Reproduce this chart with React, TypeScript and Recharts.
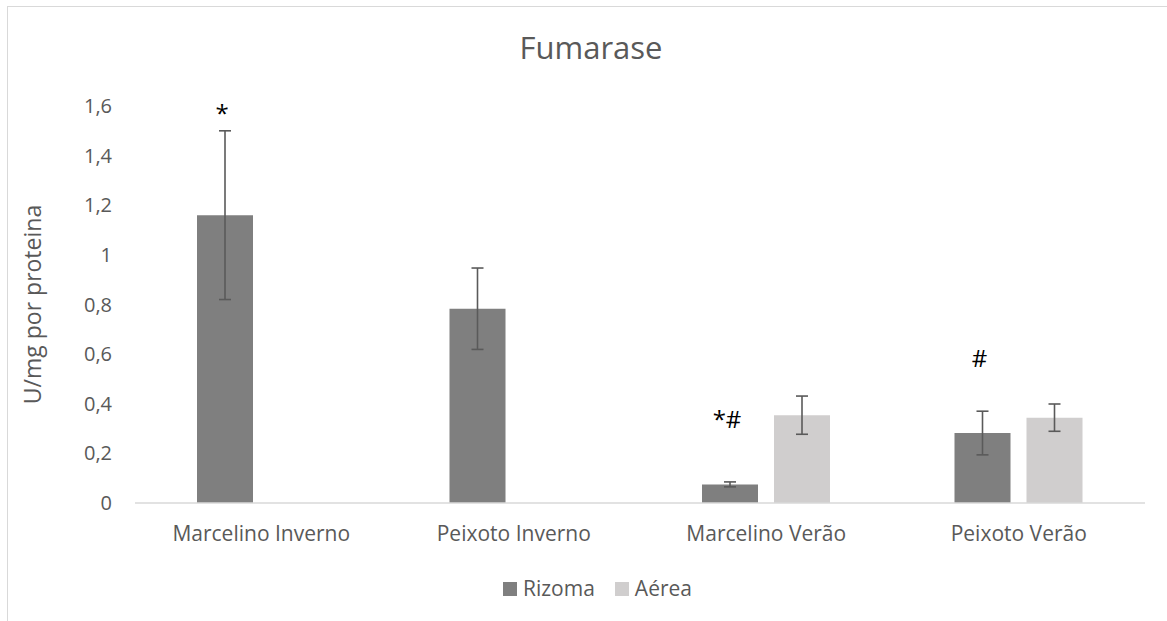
import {
  BarChart,
  Bar,
  XAxis,
  YAxis,
  ErrorBar,
  Legend,
  Label,
} from "recharts";

const categories = [
  "Marcelino Inverno",
  "Peixoto Inverno",
  "Marcelino Verão",
  "Peixoto Verão",
];
const seriesNames = ["Rizoma", "Aérea"];
const rizoma = [1.16, 0.783, 0.075, 0.282];
const rizomaErr = [0.34, 0.164, 0.01, 0.088];
const aerea = [null, null, 0.354, 0.344];
const aereaErr = [null, null, 0.077, 0.055];
// significance marks above the Rizoma bars, with the level they sit at
const marks = ["*", "", "*#", "#"];
const markLevels = [1.536, null, 0.304, 0.55];
const yTicks = [0, 0.2, 0.4, 0.6, 0.8, 1, 1.2, 1.4, 1.6];

const data = categories.map((name, i) => ({
  name,
  rizoma: rizoma[i],
  rizomaErr: rizomaErr[i],
  aerea: aerea[i],
  aereaErr: aereaErr[i],
}));

const FONT = "'Open Sans', sans-serif";
const TEXT = "#595959";

const renderMark = (props: any) => {
  const i = props.index;
  const vb = props.viewBox ?? props;
  const text = marks[i];
  const level = markLevels[i];
  if (!text || level == null || !vb) return null;
  const base = vb.y + vb.height;
  const perUnit = vb.height / rizoma[i];
  return (
    <text
      x={vb.x + vb.width / 2 - 3}
      y={base - level * perUnit}
      textAnchor="middle"
      fontSize={24}
      fontFamily={FONT}
      fill="#000"
    >
      {text}
    </text>
  );
};

const renderLegend = (props: any) => {
  const items = [...(props.payload || [])].sort(
    (a: any, b: any) => seriesNames.indexOf(a.value) - seriesNames.indexOf(b.value)
  );
  return (
    <div style={{ display: "flex", alignItems: "center", fontFamily: FONT }}>
      {items.map((item: any) => (
        <div
          key={item.value}
          style={{ display: "flex", alignItems: "center", marginRight: 20 }}
        >
          <span
            style={{
              width: 14,
              height: 14,
              background: item.color,
              marginRight: 6,
              display: "inline-block",
            }}
          />
          <span style={{ fontSize: 21, color: TEXT, lineHeight: "21px" }}>
            {item.value}
          </span>
        </div>
      ))}
    </div>
  );
};

function App() {
  return (
    <div
      style={{
        position: "relative",
        width: 1167,
        height: 621,
        overflow: "hidden",
        background: "#fff",
      }}
    >
      <style>{"body{margin:0;overflow:hidden}"}</style>
      <div
        style={{
          position: "absolute",
          left: 7,
          top: 6,
          right: -10,
          bottom: -10,
          borderTop: "1.5px solid #d9d9d9",
          borderLeft: "1.5px solid #d9d9d9",
        }}
      />
      <div
        style={{
          position: "absolute",
          top: 32,
          left: 0,
          width: 1182,
          textAlign: "center",
          fontFamily: FONT,
          fontSize: 31,
          lineHeight: "31px",
          color: TEXT,
        }}
      >
        Fumarase
      </div>
      <BarChart
        width={1167}
        height={621}
        data={data}
        margin={{ top: 106, right: 22, bottom: 78, left: 0 }}
        barSize={56}
        barGap={16}
        style={{ position: "absolute", top: 0, left: 0 }}
      >
        <XAxis
          dataKey="name"
          tickLine={false}
          axisLine={{ stroke: "#d9d9d9", strokeWidth: 1.5 }}
          height={40}
          tickMargin={17}
          tick={{ fill: TEXT, fontSize: 21, fontFamily: FONT }}
        />
        <YAxis
          domain={[0, 1.6]}
          ticks={yTicks}
          width={135}
          axisLine={false}
          tickLine={false}
          tickMargin={17}
          tick={{ fill: TEXT, fontSize: 20, fontFamily: FONT }}
          tickFormatter={(v: number) => String(v).replace(".", ",")}
        >
          <Label
            value="U/mg por proteina"
            angle={-90}
            position="center"
            dx={-35}
            style={{ fill: TEXT, fontSize: 23, fontFamily: FONT }}
          />
        </YAxis>
        <Legend
          verticalAlign="middle"
          align="center"
          content={renderLegend}
          wrapperStyle={{ top: 578, left: 503, width: 320 }}
        />
        <Bar
          dataKey="rizoma"
          name="Rizoma"
          fill="#7f7f7f"
          isAnimationActive={false}
          label={renderMark}
        >
          <ErrorBar
            dataKey="rizomaErr"
            width={6}
            stroke="#5a5a5a"
            strokeWidth={1.6}
            direction="y"
          />
        </Bar>
        <Bar
          dataKey="aerea"
          name="Aérea"
          fill="#d0cece"
          isAnimationActive={false}
        >
          <ErrorBar
            dataKey="aereaErr"
            width={6}
            stroke="#5a5a5a"
            strokeWidth={1.6}
            direction="y"
          />
        </Bar>
      </BarChart>
    </div>
  );
}

export default App;
